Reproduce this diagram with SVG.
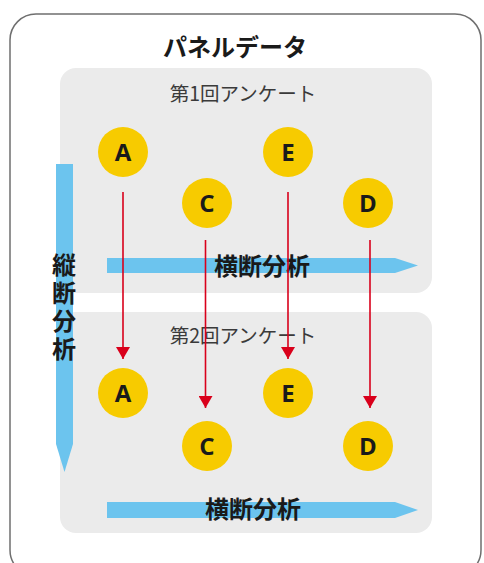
<svg xmlns="http://www.w3.org/2000/svg" width="484" height="563" viewBox="0 0 484 563">
<defs>
<style>
.frame{fill:#fff;stroke:#6f6f6f;stroke-width:1.5}
.panel{fill:#ebebeb}
.title{font-family:"Noto Sans CJK JP","Noto Sans",sans-serif;font-weight:bold;font-size:24px;fill:#1a1a1a;text-anchor:middle}
.sub{font-family:"Noto Sans CJK JP","Noto Sans",sans-serif;font-size:19.5px;fill:#3a3a3a;text-anchor:middle}
.lbl{font-family:"Noto Sans CJK JP","Noto Sans",sans-serif;font-weight:bold;font-size:24px;fill:#1a1a1a;text-anchor:middle}
.vlbl{font-family:"Noto Sans CJK JP","Noto Sans",sans-serif;font-weight:bold;font-size:24px;fill:#1a1a1a;writing-mode:vertical-rl;text-orientation:upright;letter-spacing:4px}
.circ{fill:#f7cb00}
.ctext{font-family:"Open Sans","Noto Sans",sans-serif;font-weight:bold;font-size:24px;fill:#1a1a1a;text-anchor:middle}
.blue{fill:#6cc4ee}
.red{stroke:#d9001b;stroke-width:1.6;fill:none}
</style>
<marker id="ah" markerWidth="12" markerHeight="14" refX="12" refY="7" orient="auto" markerUnits="userSpaceOnUse" viewBox="0 0 12 14">
<path d="M0,0 L12,7 L0,14 Z" fill="#d9001b"/>
</marker>
</defs>
<rect class="frame" x="10" y="14" width="471" height="562" rx="26"/>
<text class="title" x="235" y="56">パネルデータ</text>
<g id="panel1">
<rect class="panel" x="60" y="68" width="372" height="225" rx="16"/>
<text class="sub" x="243" y="101">第1回アンケート</text>
</g>
<g id="panel2">
<rect class="panel" x="60" y="312" width="372" height="221" rx="16"/>
<text class="sub" x="243" y="343">第2回アンケート</text>
</g>
<g id="cross1">
<path class="blue" d="M107,258 L395,258 L418,265.5 L395,273 L107,273 Z"/>
<text class="lbl" x="262" y="275">横断分析</text>
</g>
<g id="cross2">
<path class="blue" d="M107,502 L395,502 L418,510 L395,518 L107,518 Z"/>
<text class="lbl" x="253" y="518">横断分析</text>
</g>
<g id="longitudinal">
<path class="blue" d="M56,164 L73,164 L73,444 L64.5,472 L56,444 Z"/>
<text class="vlbl" x="64" y="253">縦断分析</text>
</g>
<g id="A1"><circle class="circ" cx="123" cy="152" r="25"/><text class="ctext" x="123" y="160.5">A</text></g>
<g id="E1"><circle class="circ" cx="288" cy="152" r="25"/><text class="ctext" x="288" y="160.5">E</text></g>
<g id="C1"><circle class="circ" cx="207" cy="203" r="25"/><text class="ctext" x="207" y="211.5">C</text></g>
<g id="D1"><circle class="circ" cx="368" cy="203" r="25"/><text class="ctext" x="368" y="211.5">D</text></g>
<g id="A2"><circle class="circ" cx="123" cy="393" r="25"/><text class="ctext" x="123" y="401.5">A</text></g>
<g id="E2"><circle class="circ" cx="288" cy="393" r="25"/><text class="ctext" x="288" y="401.5">E</text></g>
<g id="C2"><circle class="circ" cx="207" cy="446" r="25"/><text class="ctext" x="207" y="454.5">C</text></g>
<g id="D2"><circle class="circ" cx="368" cy="446" r="25"/><text class="ctext" x="368" y="454.5">D</text></g>
<g id="connectors">
<line class="red" x1="123" y1="192" x2="123" y2="359" marker-end="url(#ah)"/>
<line class="red" x1="205.5" y1="240" x2="205.5" y2="408" marker-end="url(#ah)"/>
<line class="red" x1="288" y1="192" x2="288" y2="359" marker-end="url(#ah)"/>
<line class="red" x1="370" y1="240" x2="370" y2="408" marker-end="url(#ah)"/>
</g>
</svg>
